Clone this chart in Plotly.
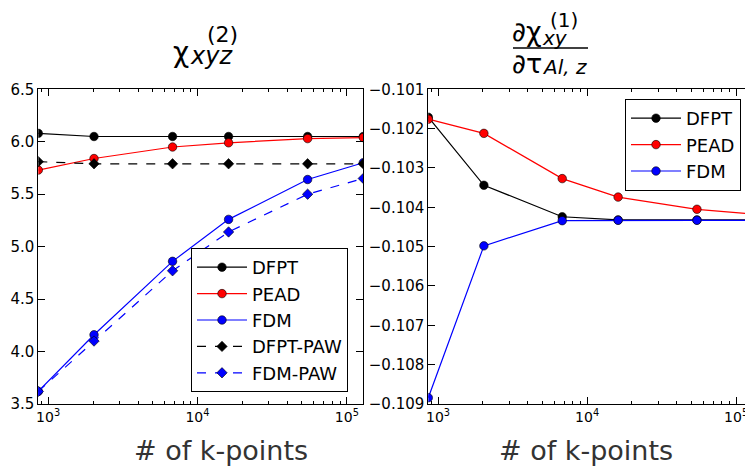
import math
import plotly.graph_objects as go

# ---- data ----
kpts = [860, 2030, 6810, 16150, 54600, 128800]

chi2_dfpt = [6.08, 6.05, 6.05, 6.05, 6.05, 6.05]
chi2_pead = [5.73, 5.84, 5.95, 5.99, 6.03, 6.04]
chi2_fdm = [3.62, 4.16, 4.86, 5.26, 5.64, 5.80]
chi2_dfpt_paw = [5.81, 5.79, 5.79, 5.79, 5.79, 5.79]
chi2_fdm_paw = [3.62, 4.10, 4.77, 5.14, 5.50, 5.65]

dchi_dfpt = [-0.10171, -0.10344, -0.10424, -0.10432, -0.10432, -0.10432]
dchi_pead = [-0.10176, -0.10212, -0.10327, -0.10374, -0.10405, -0.10417]
dchi_fdm = [-0.10884, -0.10498, -0.10434, -0.10433, -0.10433, -0.10433]

xtick_vals = [1000, 10000, 100000]
xtick_text = ["10<sup>3</sup>", "10<sup>4</sup>", "10<sup>5</sup>"]
xlabel = "# of k-points"

W, H = 753, 466
OFF = 8  # page body margin in front of the figure
FONT = "DejaVu Sans"


def px(x):
    return (x - OFF) / W


def py(y):
    return 1 - (y - OFF) / H


fig = go.Figure()


def add(x, y, name, color, symbol, size, dash, xa, ya, legend):
    fig.add_trace(go.Scatter(
        x=x, y=y, name=name, mode="lines+markers",
        line=dict(color=color, width=1.2, dash=dash),
        marker=dict(color=color, symbol=symbol, size=size,
                    line=dict(color="black", width=0.6)),
        xaxis=xa, yaxis=ya, legend=legend, legendgroup=name + legend,
    ))


add(kpts, chi2_dfpt, "DFPT", "black", "circle", 8.5, "solid", "x", "y", "legend")
add(kpts, chi2_pead, "PEAD", "#ff0000", "circle", 8.5, "solid", "x", "y", "legend")
add(kpts, chi2_fdm, "FDM", "#0000ff", "circle", 8.5, "solid", "x", "y", "legend")
add(kpts, chi2_dfpt_paw, "DFPT-PAW", "black", "diamond", 8, "dash", "x", "y", "legend")
add(kpts, chi2_fdm_paw, "FDM-PAW", "#0000ff", "diamond", 8, "dash", "x", "y", "legend")

add(kpts, dchi_dfpt, "DFPT", "black", "circle", 8.5, "solid", "x2", "y2", "legend2")
add(kpts, dchi_pead, "PEAD", "#ff0000", "circle", 8.5, "solid", "x2", "y2", "legend2")
add(kpts, dchi_fdm, "FDM", "#0000ff", "circle", 8.5, "solid", "x2", "y2", "legend2")

xr = [math.log10(kpts[0]), math.log10(kpts[-1])]
minor_vals = [m * 10 ** e for e in (2, 3, 4, 5) for m in range(2, 10)]

xcommon = dict(
    type="log", range=xr, showline=True, linecolor="black", linewidth=1,
    mirror="ticks", ticks="inside", ticklen=7, tickcolor="black",
    tickvals=xtick_vals, ticktext=xtick_text, showgrid=False, zeroline=False,
    tickfont=dict(family=FONT, size=14, color="black"), automargin=False,
    minor=dict(ticks="inside", ticklen=3, tickcolor="black",
               tickmode="array", tickvals=minor_vals, showgrid=False),
)
ycommon = dict(
    showline=True, linecolor="black", linewidth=1, mirror="ticks",
    ticks="inside", ticklen=7, tickcolor="black", showgrid=False, zeroline=False,
    tickfont=dict(family=FONT, size=15, color="black"), automargin=False,
)

legend_common = dict(
    xanchor="left", yanchor="top", bordercolor="black", borderwidth=1,
    bgcolor="white", font=dict(family=FONT, size=18, color="black"),
    tracegroupgap=0, itemwidth=50,
)

fig.update_layout(
    width=W, height=H, margin=dict(l=0, r=0, t=0, b=0),
    paper_bgcolor="white", plot_bgcolor="white", showlegend=True,
    xaxis=dict(domain=[px(38.3), px(363.3)], anchor="y", **xcommon),
    yaxis=dict(domain=[py(404), py(89.3)], anchor="x", range=[3.5, 6.5],
               dtick=0.5, tick0=3.5, tickformat=".1f", **ycommon),
    xaxis2=dict(domain=[px(428.3), px(752.5)], anchor="y2", **xcommon),
    yaxis2=dict(domain=[py(404), py(89.3)], anchor="x2", range=[-0.109, -0.101],
                dtick=0.001, tick0=-0.109, tickformat=".3f", **ycommon),
    legend=dict(x=px(191), y=py(248), **legend_common),
    legend2=dict(x=px(625), y=py(99), **legend_common),
)


def ann(text, x, y, size, xanchor="left", italic=False, family=FONT, color="black"):
    fig.add_annotation(text=text, x=px(x), y=py(y), xref="paper", yref="paper",
                       xanchor=xanchor, yanchor="middle", showarrow=False,
                       font=dict(family=family, size=size, color=color,
                                 style="italic" if italic else "normal"))


# x-axis titles
ann(xlabel, 221, 450, 27, xanchor="center", color="#333333")
ann(xlabel, 586, 450, 27, xanchor="center", color="#333333")

# left title: chi^(2)_xyz
ann("χ", 171, 52, 28)
ann("xyz", 188, 56, 24, italic=True)
ann("(2)", 205, 35, 22)

# right title: d chi_xy^(1) / d tau_Al,z
ann("∂χ", 510, 31, 27)
ann("xy", 540, 38, 20, italic=True)
ann("(1)", 548, 20, 20)
fig.add_shape(type="line", xref="paper", yref="paper",
              x0=px(513), x1=px(588), y0=py(48), y1=py(48),
              line=dict(color="black", width=1.5))
ann("∂τ", 510, 63, 27)
ann("Al, z", 540, 67, 20, italic=True)

fig.write_html("out.html")
